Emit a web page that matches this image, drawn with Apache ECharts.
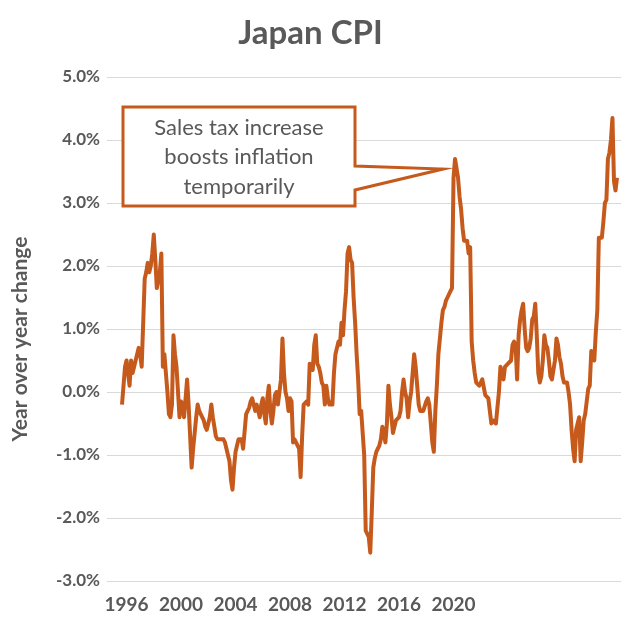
<!DOCTYPE html>
<html><head><meta charset="utf-8">
<script src="https://cdn.jsdelivr.net/npm/echarts@6/dist/echarts.min.js"></script>
<style>html,body{margin:0;padding:0;background:#fff}#c{width:621px;height:622px}</style>
</head><body><div id="c"></div><script>
const titleText = 'Japan CPI';
const yAxisName = 'Year over year change';
const startYear = 1996;
// Monthly year-over-year change (%), Jan 1996 .. Apr 2023
const yoyChange = [
  -0.2, 0.1, 0.4, 0.5, 0.3, 0.1, 0.5, 0.3, 0.4, 0.5, 0.6, 0.7,
  0.6, 0.4, 0.4, 1.8, 1.9, 2.05, 1.9, 2.0, 2.2, 2.5, 2.1, 1.65,
  1.65, 1.9, 2.2, 0.4, 0.6, 0.3, 0.0, -0.35, -0.4, -0.2, 0.9, 0.6,
  0.4, 0.0, -0.4, -0.15, -0.2, -0.4, -0.1, 0.2, -0.2, -0.7, -1.2, -0.9,
  -0.65, -0.4, -0.2, -0.3, -0.35, -0.35, -0.45, -0.55, -0.6, -0.6, -0.4, -0.2,
  -0.4, -0.55, -0.7, -0.75, -0.75, -0.75, -0.75, -0.75, -0.8, -0.9, -0.9, -1.1,
  -1.4, -1.55, -1.2, -0.95, -0.85, -0.75, -0.75, -0.75, -0.9, -0.9, -0.35, -0.3,
  -0.25, -0.15, -0.1, -0.1, -0.3, -0.2, -0.2, -0.4, -0.2, -0.1, -0.35, -0.5,
  -0.1, 0.1, -0.3, -0.5, -0.3, -0.05, 0.0, -0.2, 0.0, 0.2, 0.85, 0.3,
  0.0, -0.1, -0.3, -0.1, -0.15, -0.8, -0.75, -0.75, -0.85, -0.9, -1.35, -0.7,
  -0.2, -0.2, -0.15, -0.2, 0.45, 0.4, 0.35, 0.75, 0.9, 0.45, 0.4, 0.3,
  0.15, 0.1, -0.2, 0.1, -0.1, -0.2, -0.2, -0.2, 0.3, 0.6, 0.7, 0.8,
  0.75, 1.1, 0.9, 1.3, 1.6, 2.2, 2.3, 2.1, 2.05, 1.5, 1.1, 0.6,
  0.2, -0.35, -0.3, -0.3, -1.0, -2.2, -2.2, -2.3, -2.55, -1.9, -1.2, -1.05,
  -0.95, -0.9, -0.85, -0.75, -0.55, -0.65, -0.8, -0.5, 0.1, -0.2, -0.4, -0.65,
  -0.55, -0.45, -0.45, -0.4, -0.3, 0.0, 0.2, 0.0, -0.1, -0.4, -0.15, 0.0,
  0.3, 0.6, 0.4, 0.1, -0.2, -0.3, -0.3, -0.3, -0.3, -0.15, -0.1, -0.2,
  -0.5, -0.8, -0.95, -0.3, 0.1, 0.6, 0.85, 1.1, 1.3, 1.35, 1.45, 1.5,
  1.5, 1.6, 1.65, 3.4, 3.7, 3.55, 3.4, 3.1, 2.9, 2.6, 2.4, 2.4,
  2.4, 2.2, 2.3, 0.8, 0.5, 0.3, 0.15, 0.15, 0.1, 0.15, 0.2, 0.2,
  -0.05, -0.05, -0.1, -0.3, -0.5, -0.45, -0.45, -0.5, -0.5, 0.0, 0.4, 0.3,
  0.2, 0.4, 0.4, 0.45, 0.45, 0.5, 0.75, 0.8, 0.75, 0.2, 0.9, 1.15,
  1.3, 1.4, 1.0, 0.7, 0.65, 0.7, 0.85, 1.15, 1.2, 1.4, 0.9, 0.3,
  0.15, 0.25, 0.5, 0.9, 0.75, 0.7, 0.5, 0.25, 0.2, 0.2, 0.5, 0.85,
  0.75, 0.55, 0.45, 0.25, 0.15, 0.15, 0.15, 0.0, -0.2, -0.6, -0.9, -1.1,
  -0.6, -0.5, -0.4, -1.1, -0.8, -0.45, -0.35, -0.35, 0.05, 0.1, 0.65, 0.6,
  0.5, 0.95, 1.3, 2.45, 2.45, 2.45, 2.7, 3.0, 3.05, 3.7, 3.8, 4.0,
  4.35, 3.35, 3.2, 3.4
];
const tickLabels = ['1996', '2000', '2004', '2008', '2012', '2016', '2020'];
const annotationLines = ['Sales tax increase', 'boosts inflation', 'temporarily'];
const yMin = -3, yMax = 5, yStep = 1;

const categories = yoyChange.map((_, i) =>
  (startYear + Math.floor(i / 12)) + '-' + String(i % 12 + 1).padStart(2, '0'));

const FONT = 'Lato, "Open Sans", "DejaVu Sans", sans-serif';
const GREY = '#595959';
const ORANGE = '#C55A1C';
const labelStart = 3, labelStep = 36;

function labelSlot(idx) {
  if (idx < labelStart || (idx - labelStart) % labelStep !== 0) return -1;
  const k = (idx - labelStart) / labelStep;
  return k < tickLabels.length ? k : -1;
}

const chart = echarts.init(document.getElementById('c'), null, {renderer: 'canvas'});
chart.setOption({
  animation: false,
  backgroundColor: '#ffffff',
  title: {
    text: titleText, left: 'center', top: 12,
    textStyle: {fontFamily: FONT, fontSize: 33, fontWeight: 'bold', color: GREY}
  },
  grid: [
    {left: 107, right: 0, top: 77, bottom: 41},
    {left: 122, right: 4, top: 77, bottom: 41}
  ],
  xAxis: [
    {gridIndex: 0, type: 'category', data: categories, show: false},
    {
      gridIndex: 1, type: 'category', data: categories, boundaryGap: false,
      axisLine: {show: false}, axisTick: {show: false}, splitLine: {show: false},
      axisLabel: {
        interval: (idx) => labelSlot(idx) >= 0,
        formatter: (val) => { const k = labelSlot(categories.indexOf(val)); return k >= 0 ? tickLabels[k] : ''; },
        margin: 14, fontFamily: FONT, fontSize: 19, fontWeight: 'bold', color: GREY
      }
    }
  ],
  yAxis: [
    {
      gridIndex: 0, type: 'value', min: yMin, max: yMax, interval: yStep,
      axisLine: {show: false}, axisTick: {show: false},
      splitLine: {lineStyle: {color: '#D9D9D9', width: 1}},
      axisLabel: {formatter: (v) => v.toFixed(1) + '%', margin: 7, fontFamily: FONT, fontSize: 17, fontWeight: 'bold', color: GREY}
    },
    {gridIndex: 1, type: 'value', min: yMin, max: yMax, interval: yStep, show: false, splitLine: {show: false}}
  ],
  series: [{
    type: 'line', xAxisIndex: 1, yAxisIndex: 1, data: yoyChange,
    showSymbol: false, symbol: 'none',
    lineStyle: {color: ORANGE, width: 4, join: 'round'},
    itemStyle: {color: ORANGE}
  }],
  graphic: [
    {
      type: 'text', x: 20, y: 339, rotation: Math.PI / 2,
      style: {
        text: yAxisName, align: 'center', verticalAlign: 'middle',
        font: 'bold 21px ' + FONT, fill: GREY
      }
    },
    {
      type: 'polygon', z: 10,
      shape: {points: [[123, 107], [355, 107], [355, 166], [443, 169], [355, 190], [355, 206], [123, 206]]},
      style: {fill: '#ffffff', stroke: ORANGE, lineWidth: 3, lineJoin: 'miter'}
    },
    {
      type: 'text', z: 11, x: 239, y: 157,
      style: {
        text: annotationLines.join('\n'), align: 'center', verticalAlign: 'middle',
        font: '22px ' + FONT, lineHeight: 29.5, fill: GREY
      }
    }
  ]
});
</script></body></html>
